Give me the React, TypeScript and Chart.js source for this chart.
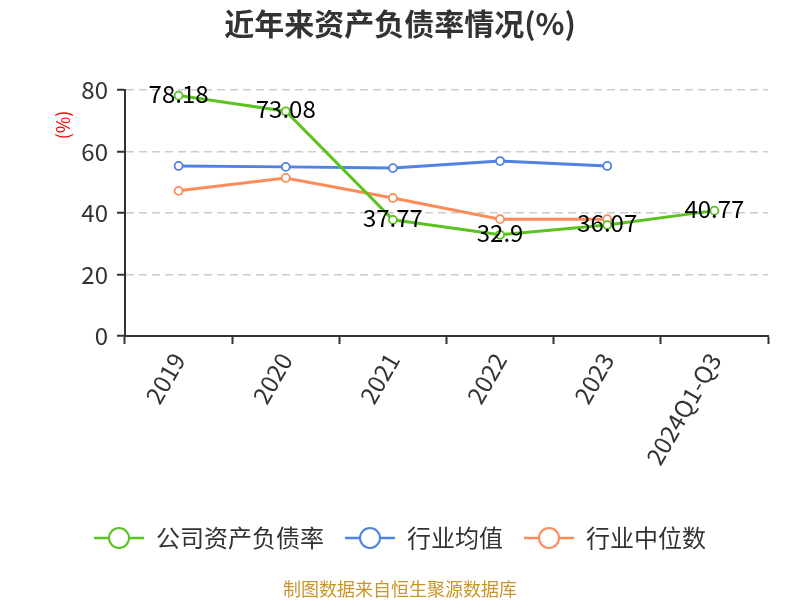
import React, { useEffect, useRef } from "react";
import { Chart, registerables } from "chart.js";

Chart.register(...registerables);

const FONT = '"Noto Sans CJK SC", "Noto Sans", sans-serif';

const categories = ["2019", "2020", "2021", "2022", "2023", "2024Q1-Q3"];
const companyRatio = [78.18, 73.08, 37.77, 32.9, 36.07, 40.77];
const industryAvg = [55.3, 55.0, 54.6, 56.9, 55.3, null];
const industryMedian = [47.2, 51.4, 44.9, 38.0, 38.0, null];
const yTicks = [0, 20, 40, 60, 80];

const seriesNames = ["公司资产负债率", "行业均值", "行业中位数"];
const seriesColors = ["#5bc31f", "#4f82e3", "#fc8b5a"];
const titleText = "近年来资产负债率情况(%)";
const unitText = "(%)";
const footerText = "制图数据来自恒生聚源数据库";

const decorPlugin = {
  id: "decor",
  afterDatasetsDraw(chart: any) {
    const ctx = chart.ctx;
    const meta = chart.getDatasetMeta(0);
    ctx.save();
    ctx.font = `24px ${FONT}`;
    ctx.fillStyle = "#000";
    ctx.textAlign = "center";
    ctx.textBaseline = "middle";
    meta.data.forEach((pt: any, i: number) => {
      const v = companyRatio[i];
      if (v == null) return;
      ctx.fillText(String(v), pt.x, pt.y - 2);
    });
    ctx.restore();
  },
  afterDraw(chart: any) {
    const ctx = chart.ctx;
    ctx.save();
    // title
    ctx.font = `bold 30px ${FONT}`;
    ctx.fillStyle = "#333";
    ctx.textAlign = "center";
    ctx.textBaseline = "middle";
    ctx.fillText(titleText, 400, 24);

    // y unit
    ctx.save();
    ctx.translate(63, 125);
    ctx.rotate(-Math.PI / 2);
    ctx.font = `18px ${FONT}`;
    ctx.fillStyle = "#ff0000";
    ctx.fillText(unitText, 0, 0);
    ctx.restore();

    // legend
    ctx.font = `24px ${FONT}`;
    const lineW = 50;
    const gapText = 12;
    const gapItem = 21;
    const widths = seriesNames.map((n) => lineW + gapText + ctx.measureText(n).width);
    const total = widths.reduce((a, b) => a + b, 0) + gapItem * (seriesNames.length - 1);
    let x = 400 - total / 2;
    const ly = 538;
    seriesNames.forEach((name, i) => {
      ctx.strokeStyle = seriesColors[i];
      ctx.lineWidth = 2.5;
      ctx.beginPath();
      ctx.moveTo(x, ly);
      ctx.lineTo(x + lineW, ly);
      ctx.stroke();
      ctx.beginPath();
      ctx.arc(x + lineW / 2, ly, 10, 0, Math.PI * 2);
      ctx.fillStyle = "#fff";
      ctx.fill();
      ctx.lineWidth = 2;
      ctx.stroke();
      ctx.fillStyle = "#333";
      ctx.textAlign = "left";
      ctx.textBaseline = "middle";
      ctx.fillText(name, x + lineW + gapText, ly);
      x += widths[i] + gapItem;
    });

    // footer
    ctx.font = `18px ${FONT}`;
    ctx.fillStyle = "#c9952b";
    ctx.textAlign = "center";
    ctx.textBaseline = "middle";
    ctx.fillText(footerText, 400, 589);
    ctx.restore();
  },
};

export default function App() {
  const ref = useRef<HTMLCanvasElement | null>(null);
  useEffect(() => {
    if (!ref.current) return;
    const mk = (label: string, data: any[], color: string) => ({
      label,
      data,
      borderColor: color,
      backgroundColor: "#fff",
      borderWidth: 3,
      pointRadius: 4,
      pointBorderWidth: 1.8,
      pointBackgroundColor: "#fff",
      pointBorderColor: color,
      tension: 0,
      spanGaps: false,
    });
    const chart = new Chart(ref.current, {
      type: "line",
      data: {
        labels: categories,
        datasets: [
          mk(seriesNames[0], companyRatio, seriesColors[0]),
          mk(seriesNames[1], industryAvg, seriesColors[1]),
          mk(seriesNames[2], industryMedian, seriesColors[2]),
        ],
      },
      options: {
        responsive: false,
        animation: false,
        layout: { padding: { top: 90, right: 32, bottom: 0, left: 0 } },
        plugins: {
          legend: { display: false },
          title: { display: false },
          tooltip: { enabled: false },
        },
        scales: {
          x: {
            offset: true,
            afterFit: (s: any) => {
              s.height = 264;
            },
            grid: {
              offset: true,
              drawOnChartArea: false,
              drawTicks: true,
              tickLength: 8,
              tickColor: "#333",
              tickWidth: 2,
            },
            border: { display: true, color: "#333", width: 2 },
            ticks: {
              autoSkip: false,
              minRotation: 60,
              maxRotation: 60,
              padding: 4,
              color: "#333",
              font: { size: 24, family: FONT },
            },
          },
          y: {
            min: 0,
            max: 80,
            afterFit: (s: any) => {
              s.width = 125;
            },
            afterBuildTicks: (s: any) => {
              s.ticks = yTicks.map((v) => ({ value: v }));
            },
            grid: {
              color: "#cccccc",
              lineWidth: 1.5,
              drawTicks: true,
              tickLength: 8,
              tickColor: "#333",
              tickWidth: 2,
              tickBorderDash: [],
            },
            border: { display: true, color: "#333", width: 2, dash: [8, 5] },
            ticks: {
              padding: 9,
              color: "#333",
              font: { size: 24, family: FONT },
            },
          },
        },
      },
      plugins: [decorPlugin],
    } as any);
    return () => chart.destroy();
  }, []);
  return (
    <div style={{ position: "fixed", left: 0, top: 0, width: 800, height: 600, background: "#fff" }}>
      <canvas ref={ref} width={800} height={600} style={{ display: "block" }} />
    </div>
  );
}
